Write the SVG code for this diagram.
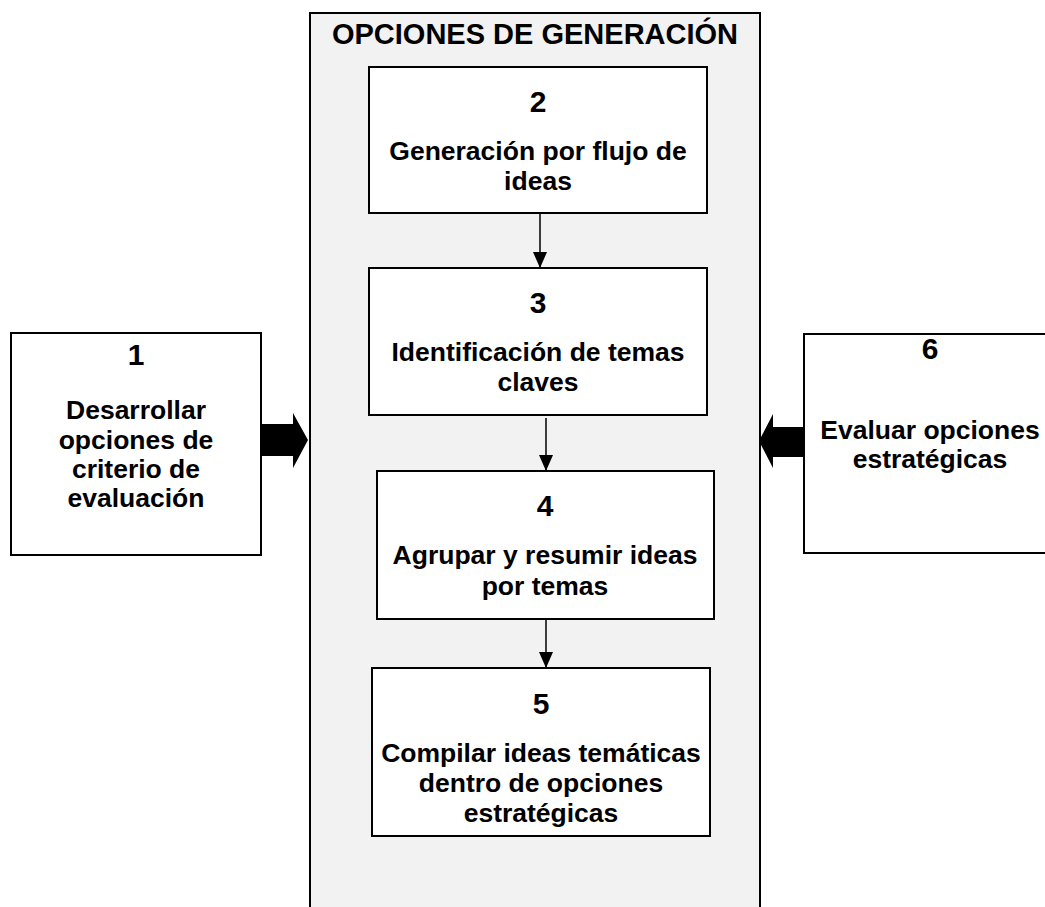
<svg xmlns="http://www.w3.org/2000/svg" width="1045" height="907" viewBox="0 0 1045 907">
<defs>
<style>
.box{fill:#ffffff;stroke:#000;stroke-width:2}
.cont{fill:#f2f2f2;stroke:#000;stroke-width:2}
text{font-family:"Liberation Sans",Arial,sans-serif;font-weight:bold;fill:#000;text-anchor:middle}
.num{font-size:30px}
.lbl{font-size:26.5px}
.title{font-size:29px}
.conn{stroke:#000;stroke-width:1.5;fill:none}
.block{fill:#000;stroke:none}
</style>
<marker id="ah" viewBox="0 0 16 14" refX="16" refY="7" markerWidth="16" markerHeight="14" markerUnits="userSpaceOnUse" orient="auto">
<path d="M0,0 L16,7 L0,14 Z" fill="#000"/>
</marker>
</defs>
<rect width="1045" height="907" fill="#ffffff"/>
<g id="container">
<rect class="cont" x="310" y="13" width="450" height="910"/>
<text class="title" x="535" y="44">OPCIONES DE GENERACIÓN</text>
</g>
<g id="node1">
<rect class="box" x="11" y="333" width="250" height="222"/>
<text class="num" x="136" y="365">1</text>
<text class="lbl" x="136" y="419">Desarrollar</text>
<text class="lbl" x="136" y="448.5">opciones de</text>
<text class="lbl" x="136" y="478">criterio de</text>
<text class="lbl" x="136" y="507">evaluación</text>
</g>
<g id="node2">
<rect class="box" x="369" y="67" width="338" height="146"/>
<text class="num" x="538" y="112">2</text>
<text class="lbl" x="538" y="160">Generación por flujo de</text>
<text class="lbl" x="538" y="190">ideas</text>
</g>
<g id="node3">
<rect class="box" x="369" y="268" width="338" height="147"/>
<text class="num" x="538" y="313">3</text>
<text class="lbl" x="538" y="361">Identificación de temas</text>
<text class="lbl" x="538" y="391">claves</text>
</g>
<g id="node4">
<rect class="box" x="377" y="471" width="337" height="148"/>
<text class="num" x="545" y="516">4</text>
<text class="lbl" x="545" y="564">Agrupar y resumir ideas</text>
<text class="lbl" x="545" y="595">por temas</text>
</g>
<g id="node5">
<rect class="box" x="372" y="668" width="338" height="168"/>
<text class="num" x="541" y="714">5</text>
<text class="lbl" x="541" y="762">Compilar ideas temáticas</text>
<text class="lbl" x="541" y="792">dentro de opciones</text>
<text class="lbl" x="541" y="822">estratégicas</text>
</g>
<g id="node6">
<rect class="box" x="804" y="334" width="252" height="219"/>
<text class="num" x="930" y="359">6</text>
<text class="lbl" x="930" y="439">Evaluar opciones</text>
<text class="lbl" x="930" y="468">estratégicas</text>
</g>
<g id="connectors">
<line class="conn" x1="540" y1="213" x2="540" y2="268" marker-end="url(#ah)"/>
<line class="conn" x1="546" y1="418" x2="546" y2="471" marker-end="url(#ah)"/>
<line class="conn" x1="546" y1="619" x2="546" y2="668" marker-end="url(#ah)"/>
<path class="block" d="M261,424 L293,424 L293,413 L308,440 L293,468 L293,456 L261,456 Z"/>
<path class="block" d="M804,427 L773,427 L773,414 L759,441 L773,468 L773,457 L804,457 Z"/>
</g>
</svg>
